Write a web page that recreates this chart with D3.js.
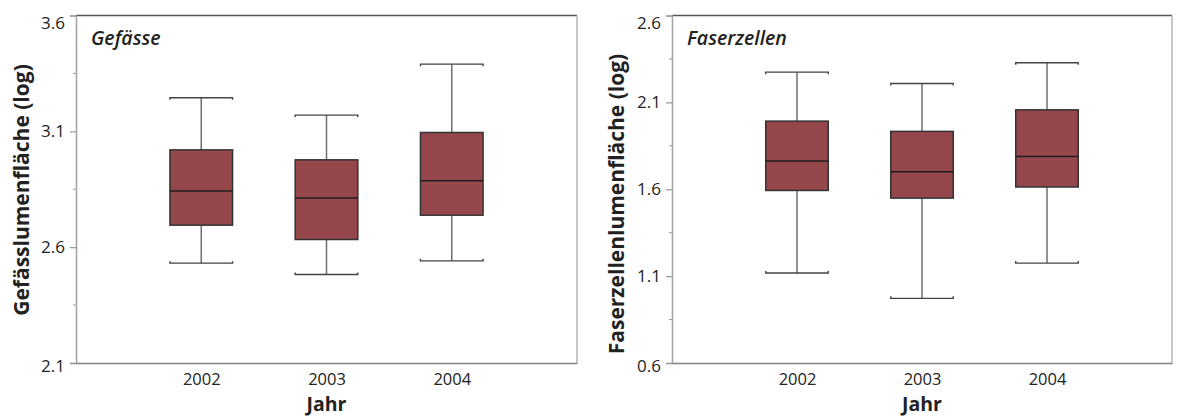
<!DOCTYPE html>
<html>
<head>
<meta charset="utf-8">
<script src="https://cdn.jsdelivr.net/npm/d3@7"></script>
<style>
  html, body { margin: 0; padding: 0; background: #fff; }
  svg { display: block; font-family: "Open Sans", "Noto Sans", sans-serif; }
</style>
</head>
<body>
<svg id="chart" width="1181" height="416"></svg>
<script>
// Jahrgänge (x categories)
const years = ["2002", "2003", "2004"];

// Gefässlumenfläche (log): box plot statistics per year
const gefHigh   = [3.245, 3.170, 3.390];
const gefQ3     = [3.020, 2.977, 3.095];
const gefMedian = [2.842, 2.812, 2.887];
const gefQ1     = [2.695, 2.633, 2.738];
const gefLow    = [2.531, 2.482, 2.541];
const gefTicks      = [2.1, 2.6, 3.1, 3.6];
const gefMinorTicks = [2.35, 2.85, 3.35];

// Faserzellenlumenfläche (log): box plot statistics per year
const fasHigh   = [2.274, 2.209, 2.328];
const fasQ3     = [1.992, 1.933, 2.057];
const fasMedian = [1.762, 1.701, 1.789];
const fasQ1     = [1.593, 1.549, 1.613];
const fasLow    = [1.118, 0.972, 1.175];
const fasTicks      = [0.6, 1.1, 1.6, 2.1, 2.6];
const fasMinorTicks = [0.85, 1.35, 1.85, 2.35];

const panels = [
  {
    title: "Gefässe", yTitle: "Gefässlumenfläche (log)",
    high: gefHigh, q3: gefQ3, median: gefMedian, q1: gefQ1, low: gefLow,
    ticks: gefTicks, minor: gefMinorTicks,
    x0: 76, x1: 577, yTitleX: 29, yTitleY: 190
  },
  {
    title: "Faserzellen", yTitle: "Faserzellenlumenfläche (log)",
    high: fasHigh, q3: fasQ3, median: fasMedian, q1: fasQ1, low: fasLow,
    ticks: fasTicks, minor: fasMinorTicks,
    x0: 672, x1: 1172, yTitleX: 624, yTitleY: 204
  }
];

const plotTop = 15.5, plotBottom = 363;
const boxFill = "#96474b";
const svg = d3.select("#chart");

panels.forEach(p => {
  const g = svg.append("g");
  const y = d3.scaleLinear()
    .domain(d3.extent(p.ticks))
    .range([plotBottom, plotTop]);
  const x = d3.scalePoint()
    .domain(years)
    .range([p.x0, p.x1])
    .padding(1);
  const boxW = x.step() * 0.5;

  // frame: top and right border
  g.append("line").attr("x1", p.x0).attr("x2", p.x1).attr("y1", plotTop).attr("y2", plotTop)
    .attr("stroke", "#555").attr("stroke-width", 1.3);
  g.append("line").attr("x1", p.x1).attr("x2", p.x1).attr("y1", plotTop).attr("y2", plotBottom)
    .attr("stroke", "#aaa").attr("stroke-width", 1.3);

  // y axis
  const yAxis = d3.axisLeft(y)
    .tickValues(p.ticks)
    .tickFormat(d3.format(".1f"))
    .tickSize(6)
    .tickPadding(5);
  const ya = g.append("g").attr("transform", `translate(${p.x0},0)`).call(yAxis);
  ya.select(".domain").attr("stroke", "#a5a5a5").attr("stroke-width", 1.6);
  ya.selectAll(".tick line").attr("stroke", "#999").attr("stroke-width", 1.2);
  ya.selectAll(".tick text")
    .attr("font-size", 17).attr("fill", "#222")
    .attr("font-family", "'Open Sans', sans-serif")
    .attr("dy", (d, i, n) => i === n.length - 1 ? "0.75em" : (i === 0 ? "0.5em" : "0.32em"));

  // minor ticks
  g.append("g").selectAll("line").data(p.minor).join("line")
    .attr("x1", p.x0 - 3).attr("x2", p.x0)
    .attr("y1", d => y(d)).attr("y2", d => y(d))
    .attr("stroke", "#999").attr("stroke-width", 1);

  // x axis
  const xAxis = d3.axisBottom(x).tickSize(0).tickPadding(10);
  const xa = g.append("g").attr("transform", `translate(0,${plotBottom})`).call(xAxis);
  xa.select(".domain").attr("stroke", "#808080").attr("stroke-width", 1.3);
  xa.selectAll(".tick text")
    .attr("font-size", 16.5).attr("fill", "#222")
    .attr("font-family", "'Open Sans', sans-serif");

  // axis titles
  g.append("text")
    .attr("x", (p.x0 + p.x1) / 2).attr("y", 411)
    .attr("text-anchor", "middle")
    .attr("font-size", 19.5).attr("font-weight", 700).attr("fill", "#222")
    .text("Jahr");
  g.append("text")
    .attr("transform", `translate(${p.yTitleX},${p.yTitleY}) rotate(-90)`)
    .attr("text-anchor", "middle")
    .attr("font-size", 21).attr("font-weight", 700).attr("fill", "#222")
    .text(p.yTitle);

  // panel title
  g.append("text")
    .attr("x", p.x0 + 15).attr("y", 45)
    .attr("font-size", 19.5).attr("font-weight", 600).attr("font-style", "italic")
    .attr("fill", "#222")
    .text(p.title);

  // boxes
  const idx = years.map((yr, i) => i);
  const boxes = g.append("g").selectAll("g").data(idx).join("g");

  // whiskers
  boxes.append("line")
    .attr("x1", i => x(years[i])).attr("x2", i => x(years[i]))
    .attr("y1", i => y(p.high[i])).attr("y2", i => y(p.q3[i]))
    .attr("stroke", "#6e6e6e").attr("stroke-width", 1.5);
  boxes.append("line")
    .attr("x1", i => x(years[i])).attr("x2", i => x(years[i]))
    .attr("y1", i => y(p.q1[i])).attr("y2", i => y(p.low[i]))
    .attr("stroke", "#6e6e6e").attr("stroke-width", 1.5);

  // whisker caps with small end hooks
  boxes.append("path")
    .attr("d", i => {
      const cx = x(years[i]), yy = y(p.high[i]);
      return `M${cx - boxW / 2},${yy + 2}V${yy}H${cx + boxW / 2}V${yy + 2}`;
    })
    .attr("fill", "none").attr("stroke", "#444").attr("stroke-width", 1.4);
  boxes.append("path")
    .attr("d", i => {
      const cx = x(years[i]), yy = y(p.low[i]);
      return `M${cx - boxW / 2},${yy - 2}V${yy}H${cx + boxW / 2}V${yy - 2}`;
    })
    .attr("fill", "none").attr("stroke", "#444").attr("stroke-width", 1.4);

  // interquartile box
  boxes.append("rect")
    .attr("x", i => x(years[i]) - boxW / 2)
    .attr("width", boxW)
    .attr("y", i => y(p.q3[i]))
    .attr("height", i => y(p.q1[i]) - y(p.q3[i]))
    .attr("fill", boxFill).attr("stroke", "#333").attr("stroke-width", 1.5);

  // median
  boxes.append("line")
    .attr("x1", i => x(years[i]) - boxW / 2).attr("x2", i => x(years[i]) + boxW / 2)
    .attr("y1", i => y(p.median[i])).attr("y2", i => y(p.median[i]))
    .attr("stroke", "#1e1e1e").attr("stroke-width", 1.5);
});
</script>
</body>
</html>
